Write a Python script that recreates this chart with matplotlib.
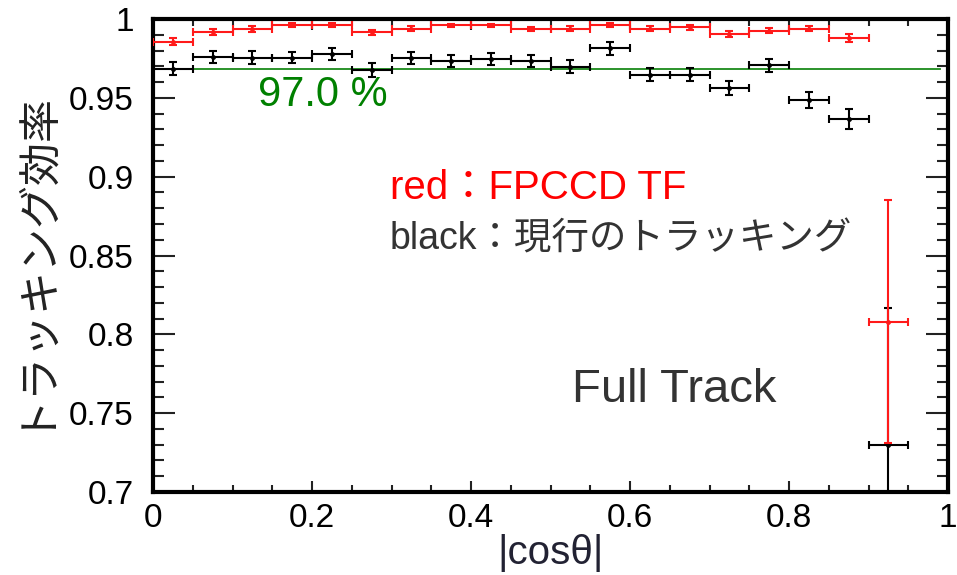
import numpy as np
import matplotlib.pyplot as plt
from matplotlib.ticker import MultipleLocator

# bin centres of |cos theta| (width 0.05)
cos_bins = [0.025, 0.075, 0.125, 0.175, 0.225, 0.275, 0.325, 0.375, 0.425, 0.475,
            0.525, 0.575, 0.625, 0.675, 0.725, 0.775, 0.825, 0.875, 0.925]
bin_half = 0.025

# red: FPCCD TF
eff_fpccd = [0.9856, 0.9916, 0.9937, 0.9962, 0.9962, 0.9916, 0.9937, 0.9960, 0.9960, 0.9937,
             0.9937, 0.9960, 0.9937, 0.9947, 0.9905, 0.9926, 0.9937, 0.9880, 0.808]
err_fpccd = [0.0022, 0.0020, 0.0018, 0.0012, 0.0012, 0.0015, 0.0016, 0.0010, 0.0010, 0.0015,
             0.0016, 0.0012, 0.0016, 0.0015, 0.0020, 0.0017, 0.0016, 0.0025, 0.077]

# black: current tracking
eff_current = [0.9685, 0.9760, 0.9755, 0.9755, 0.9780, 0.9677, 0.9755, 0.9736, 0.9747, 0.9736,
               0.9698, 0.9814, 0.9646, 0.9646, 0.9560, 0.9705, 0.9487, 0.9367, 0.730]
err_current = [0.0040, 0.0038, 0.0040, 0.0036, 0.0038, 0.0042, 0.0038, 0.0038, 0.0036, 0.0038,
               0.0040, 0.0040, 0.0040, 0.0042, 0.0045, 0.0040, 0.0052, 0.0065, 0.087]

ref_eff = 0.968

lat_jp = ['Liberation Sans', 'Noto Sans CJK JP']

fig = plt.figure(figsize=(9.57, 5.75), dpi=100)
ax = fig.add_axes([0.160, 0.1443, 0.8306, 0.8227])

ax.errorbar(cos_bins, eff_current, xerr=bin_half, yerr=err_current, fmt='o', color='black',
            ms=2.5, lw=1.5, capsize=3, capthick=1.5, zorder=3)
ax.errorbar(cos_bins, eff_fpccd, xerr=bin_half, yerr=err_fpccd, fmt='o', color='#ff1a1a',
            ms=2.5, lw=1.5, capsize=3, capthick=1.5, zorder=4)
ax.axhline(ref_eff, xmin=0.01, xmax=0.99, color='#1a8a1a', lw=1.3, zorder=2)

ax.text(0.132, 0.952, '97.0 %', color='#008000', fontsize=30, family=lat_jp, va='center')
ax.text(0.298, 0.893, 'red：FPCCD TF', color='red', fontsize=29, family=lat_jp, va='center')
ax.text(0.298, 0.860, 'black：現行のトラッキング', color='#333333', fontsize=27,
        family=lat_jp, va='center')
ax.text(0.527, 0.765, 'Full Track', color='#333333', fontsize=34, family=lat_jp, va='center')

ax.set_xlim(0, 1)
ax.set_ylim(0.7, 1.0)
ax.xaxis.set_minor_locator(MultipleLocator(0.05))
ax.yaxis.set_minor_locator(MultipleLocator(0.01))
ax.set_xticks([0, 0.2, 0.4, 0.6, 0.8, 1.0])
ax.set_xticklabels(['0', '0.2', '0.4', '0.6', '0.8', '1'])
ax.set_yticks([0.7, 0.75, 0.8, 0.85, 0.9, 0.95, 1.0])
ax.set_yticklabels(['0.7', '0.75', '0.8', '0.85', '0.9', '0.95', '1'])

ax.tick_params(axis='both', which='both', direction='in', top=True, right=True,
               labelsize=24, width=1.5, color='#222222')
ax.tick_params(axis='x', which='major', length=8, pad=8)
ax.tick_params(axis='x', which='minor', length=5)
ax.tick_params(axis='y', which='major', length=16, pad=14)
ax.tick_params(axis='y', which='minor', length=8)
for lab in ax.get_xticklabels() + ax.get_yticklabels():
    lab.set_family(lat_jp)
for sp in ax.spines.values():
    sp.set_linewidth(3)

ax.set_xlabel('|cosθ|', fontsize=29, family=lat_jp, color='#222233', labelpad=0)
ax.set_ylabel('トラッキング効率', fontsize=31, family=['Noto Sans CJK JP'], color='#222222')
ax.yaxis.set_label_coords(-0.128, 0.50)

fig.savefig('out.png', dpi=100)
